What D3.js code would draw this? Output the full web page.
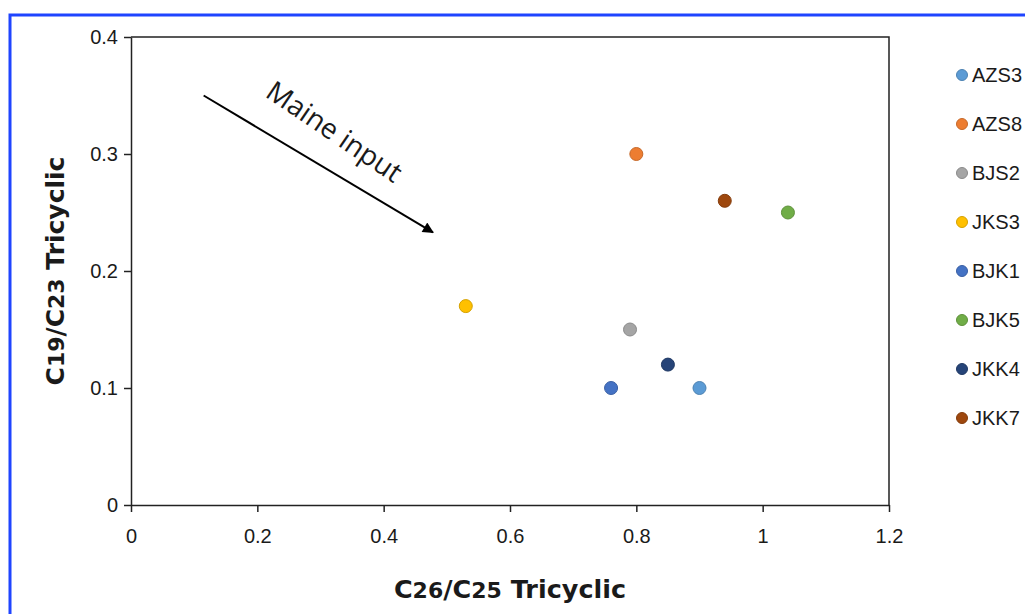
<!DOCTYPE html>
<html>
<head>
<meta charset="utf-8">
<script src="https://cdn.jsdelivr.net/npm/d3@7"></script>
<style>
  html, body { margin: 0; padding: 0; background: #fff; }
  #container { width: 1025px; height: 614px; overflow: hidden; }
  text { font-family: "Liberation Sans Narrow", "Liberation Sans", Arial, sans-serif; fill: #1a1a1a; }
</style>
</head>
<body>
<div id="container"></div>
<script>
const samples = ["AZS3", "AZS8", "BJS2", "JKS3", "BJK1", "BJK5", "JKK4", "JKK7"];
const c26c25 = [0.90, 0.80, 0.79, 0.53, 0.76, 1.04, 0.85, 0.94];
const c19c23 = [0.10, 0.30, 0.15, 0.17, 0.10, 0.25, 0.12, 0.26];
const colors = ["#5B9BD5", "#ED7D31", "#A5A5A5", "#FFC000", "#4472C4", "#70AD47", "#264478", "#9E480E"];
const xTicks = [0, 0.2, 0.4, 0.6, 0.8, 1, 1.2];
const yTicks = [0, 0.1, 0.2, 0.3, 0.4];
// arrow annotation in data units
const arrowFrom = [0.115, 0.35];
const arrowTo = [0.478, 0.233];

const width = 1025;
const height = 614;
const marginLeft = 131;
const marginRight = 136;
const marginTop = 37;
const marginBottom = 109;

const x = d3.scaleLinear()
    .domain([0, 1.2])
    .range([marginLeft, width - marginRight]);

const y = d3.scaleLinear()
    .domain([0, 0.4])
    .range([height - marginBottom, marginTop]);

const svg = d3.create("svg")
    .attr("width", width)
    .attr("height", height);

svg.append("defs").append("marker")
    .attr("id", "arrowhead")
    .attr("viewBox", "0 0 10 10")
    .attr("refX", 9)
    .attr("refY", 5)
    .attr("markerWidth", 6.5)
    .attr("markerHeight", 5.5)
    .attr("markerUnits", "strokeWidth")
    .attr("orient", "auto")
    .append("path")
    .attr("d", "M0,0 L10,5 L0,10 Z")
    .attr("fill", "#000");

// blue frame around the figure
svg.append("path")
    .attr("d", `M10,${height} L10,15 L${width},15`)
    .attr("fill", "none")
    .attr("stroke", "#1f44ff")
    .attr("stroke-width", 3);

// plot box (top and right)
svg.append("path")
    .attr("d", `M${x(0)},${y(0.4)} L${x(1.2)},${y(0.4)} L${x(1.2)},${y(0)}`)
    .attr("fill", "none")
    .attr("stroke", "#222")
    .attr("stroke-width", 1.5);

const xAxis = svg.append("g")
    .attr("transform", `translate(0,${y(0)})`)
    .call(d3.axisBottom(x).tickValues(xTicks).tickSize(7).tickSizeOuter(0)
        .tickFormat(d => String(d)));

const yAxis = svg.append("g")
    .attr("transform", `translate(${x(0)},0)`)
    .call(d3.axisLeft(y).tickValues(yTicks).tickSize(7).tickSizeOuter(0)
        .tickFormat(d => String(d)));

[xAxis, yAxis].forEach(g => {
    g.select(".domain").attr("stroke", "#222").attr("stroke-width", 1.5);
    g.selectAll(".tick line").attr("stroke", "#222").attr("stroke-width", 1.5);
    g.selectAll(".tick text")
        .attr("font-size", 20)
        .attr("font-family", "\"Liberation Sans Narrow\", \"Liberation Sans\", Arial, sans-serif")
        .attr("fill", "#1a1a1a");
});
xAxis.selectAll(".tick text").attr("y", 19).attr("dy", "0.95em");
yAxis.selectAll(".tick text").attr("x", -13).attr("dx", 0);

// axis titles
const xTitle = svg.append("text")
    .attr("x", (x(0) + x(1.2)) / 2)
    .attr("y", 598)
    .attr("text-anchor", "middle")
    .attr("font-size", 25.5)
    .attr("font-weight", "bold")
    .style("font-family", "\"DejaVu Sans\", sans-serif");
xTitle.append("tspan").text("C");
xTitle.append("tspan").attr("font-size", 22).text("26");
xTitle.append("tspan").text("/C");
xTitle.append("tspan").attr("font-size", 22).text("25");
xTitle.append("tspan").text(" Tricyclic");

const yTitle = svg.append("text")
    .attr("transform", `translate(64,${(y(0) + y(0.4)) / 2}) rotate(-90)`)
    .attr("text-anchor", "middle")
    .attr("font-size", 25)
    .attr("font-weight", "bold")
    .style("font-family", "\"DejaVu Sans\", sans-serif");
yTitle.append("tspan").text("C");
yTitle.append("tspan").attr("font-size", 22).text("19");
yTitle.append("tspan").text("/C");
yTitle.append("tspan").attr("font-size", 22).text("23");
yTitle.append("tspan").text(" Tricyclic");

// annotation arrow
svg.append("line")
    .attr("x1", x(arrowFrom[0]))
    .attr("y1", y(arrowFrom[1]))
    .attr("x2", x(arrowTo[0]))
    .attr("y2", y(arrowTo[1]))
    .attr("stroke", "#000")
    .attr("stroke-width", 2)
    .attr("marker-end", "url(#arrowhead)");

svg.append("text")
    .attr("transform", `translate(264,96) rotate(34)`)
    .attr("font-size", 28)
    .style("font-family", "\"Open Sans\", sans-serif")
    .attr("fill", "#111")
    .text("Maine input");

// points
const data = samples.map((s, i) => ({ name: s, x: c26c25[i], y: c19c23[i], color: colors[i] }));

svg.selectAll(".pt")
    .data(data)
    .enter().append("circle")
    .attr("class", "pt")
    .attr("cx", d => x(d.x))
    .attr("cy", d => y(d.y))
    .attr("r", 6.5)
    .attr("fill", d => d.color)
    .attr("stroke", d => d3.color(d.color).darker(0.5))
    .attr("stroke-width", 1);

// legend
const legend = svg.append("g")
    .attr("transform", "translate(962,75)");

const item = legend.selectAll(".item")
    .data(data)
    .enter().append("g")
    .attr("class", "item")
    .attr("transform", (d, i) => `translate(0,${i * 49})`);

item.append("circle")
    .attr("r", 5.5)
    .attr("fill", d => d.color)
    .attr("stroke", d => d3.color(d.color).darker(0.5))
    .attr("stroke-width", 1);

item.append("text")
    .attr("x", 10)
    .attr("dy", "0.36em")
    .attr("font-size", 20)
    .text(d => d.name);

document.querySelector("#container").appendChild(svg.node());
</script>
</body>
</html>
